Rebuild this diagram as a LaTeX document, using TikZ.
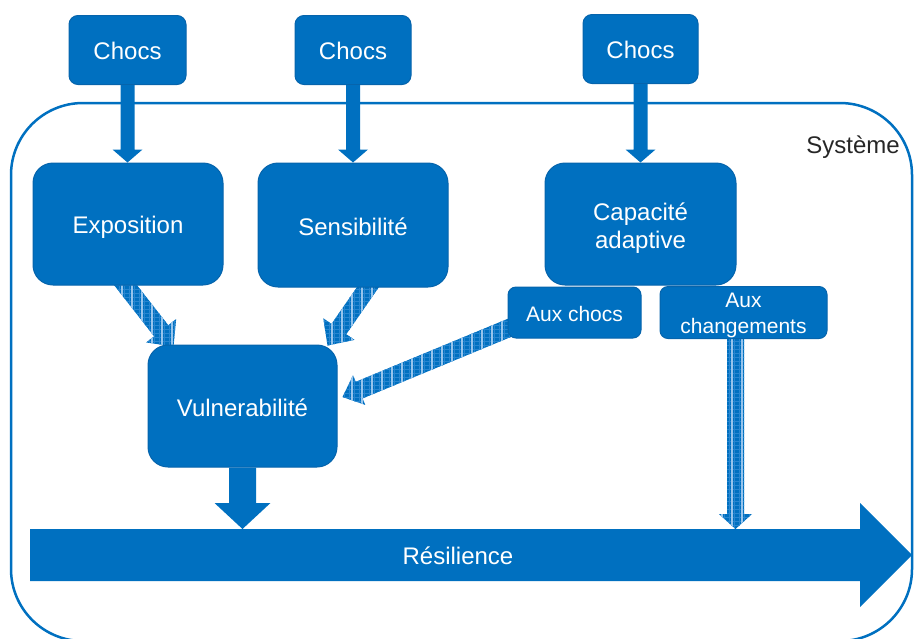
\documentclass[tikz,border=0pt]{standalone}
\usepackage{fontspec}
\setmainfont{Liberation Sans}
\usetikzlibrary{calc,backgrounds}
\definecolor{bl}{RGB}{0,112,192}
\definecolor{bldark}{RGB}{6,100,172}
\definecolor{stripe}{RGB}{150,196,236}
\definecolor{stripeb}{RGB}{40,134,208}
\definecolor{systxt}{RGB}{38,38,38}
% lower a text inside its node without changing the node
\newcommand\lowr[2][3pt]{\raisebox{-#1}[\height][\depth]{#2}}
\newcommand\twol[2]{\begin{tabular}{@{}c@{}}#1\\#2\end{tabular}}
% outline of a block arrow: start, tip, half shaft width, half head width (head base at (hb))
\newcommand\arrpath[4]{($(#1)!#3!90:(#2)$) -- ($(hb)!#3!90:(#2)$) -- ($(hb)!#4!90:(#2)$) -- (#2)
    -- ($(hb)!#4!-90:(#2)$) -- ($(hb)!#3!-90:(#2)$) -- ($(#1)!#3!-90:(#2)$) -- cycle}
% solid block arrow: start, tip, half shaft width, half head width, head length
\newcommand\blockarr[5]{%
  \coordinate (hb) at ($(#2)!#5!(#1)$);
  \fill[bl] \arrpath{#1}{#2}{#3}{#4};}
% textured block arrow
\newcommand\plaidarr[5]{%
  \begin{scope}
  \coordinate (hb) at ($(#2)!#5!(#1)$);
  \clip \arrpath{#1}{#2}{#3}{#4};
  \fill[bl] (0,0) rectangle (915,638);
  \foreach \yy in {1.5,5.5,...,638} \draw[stripeb, line width=0.6pt] (0,\yy) -- (915,\yy);
  \foreach \xx in {4,9,...,915} \draw[stripeb, line width=0.6pt] (\xx,0) -- (\xx,638);
  \foreach \xx in {2,12,...,915} \draw[stripe, line width=1.1pt] (\xx,0) -- (\xx,638);
  \end{scope}}
\begin{document}
\begin{tikzpicture}[x=1pt,y=-1pt,
  bigbox/.style={fill=bl, draw=bldark, line width=1pt, rounded corners=20pt, text=white,
    font=\fontsize{24}{28}\selectfont, inner sep=0pt},
  chocbox/.style={bigbox, rounded corners=9pt},
  smallbox/.style={fill=bl, draw=bldark, line width=1pt, rounded corners=8pt, text=white,
    font=\fontsize{21}{26}\selectfont, inner sep=0pt}]
\useasboundingbox (0,0) rectangle (915,638);

% boxes
\node[chocbox, minimum width=117pt, minimum height=69pt] (choc1) at (127.5,50) {\lowr[1pt]{Chocs}};
\node[chocbox, minimum width=116pt, minimum height=69pt] (choc2) at (353,50) {\lowr[1pt]{Chocs}};
\node[chocbox, minimum width=115pt, minimum height=69pt] (choc3) at (640.5,49) {\lowr[1pt]{Chocs}};
\node[bigbox, minimum width=190pt, minimum height=122pt] (expo) at (128,224) {\lowr[3pt]{Exposition}};
\node[bigbox, minimum width=190pt, minimum height=124pt] (sens) at (353,225) {\lowr[2pt]{Sensibilité}};
\node[bigbox, minimum width=191pt, minimum height=122pt] (cap) at (640.5,224) {\lowr[5pt]{\twol{Capacité}{adaptive}}};
\node[smallbox, minimum width=133pt, minimum height=51pt] (auxchocs) at (574.5,312.5) {\lowr[1pt]{Aux chocs}};
\node[smallbox, minimum width=167pt, minimum height=51pt] (auxchg) at (743.5,312.5) {\lowr[3pt]{\twol{Aux}{changements}}};
\node[bigbox, minimum width=189pt, minimum height=122pt] (vuln) at (242.5,406) {\lowr[2pt]{Vulnerabilité}};
\node[text=systxt, font=\fontsize{24}{28}\selectfont] (sys) at (853,145) {\lowr[2pt]{Système}};

\coordinate (restop) at (0,529);

% Résilience arrow
\coordinate (rs) at (30,555);
\coordinate (re) at (912,555);
\blockarr{rs}{re}{26pt}{52pt}{52pt}
\node[text=white, font=\fontsize{24}{28}\selectfont] (res) at (458,555) {\lowr[1pt]{Résilience}};

% solid arrows from Chocs
\coordinate (a1s) at (choc1.south);
\coordinate (a1e) at (choc1.south |- expo.north);
\blockarr{a1s}{a1e}{7pt}{15pt}{13pt}
\coordinate (a2s) at (choc2.south);
\coordinate (a2e) at (choc2.south |- sens.north);
\blockarr{a2s}{a2e}{7pt}{15pt}{13pt}
\coordinate (a3s) at (choc3.south);
\coordinate (a3e) at (choc3.south |- cap.north);
\blockarr{a3s}{a3e}{7pt}{15pt}{13pt}

% Vulnerabilité to Résilience
\coordinate (vs) at (vuln.south);
\coordinate (ve) at (vuln.south |- restop);
\blockarr{vs}{ve}{13.5pt}{28pt}{26pt}

\begin{pgfonlayer}{background}
% system frame
\draw[bl, line width=2.5pt, rounded corners=72pt] (11,103) rectangle (912,641);
% textured arrows
\coordinate (p1s) at ($(expo.south)+(-10,-10)$);
\coordinate (p1e) at ($(vuln.north west)+(26,2)$);
\plaidarr{p1s}{p1e}{9pt}{19pt}{20pt}
\coordinate (p2s) at ($(sens.south)+(23,-12)$);
\coordinate (p2e) at ($(vuln.north east)+(-10,1)$);
\plaidarr{p2s}{p2e}{9pt}{19pt}{20pt}
\coordinate (p3s) at ($(auxchocs.south west)+(10,-14)$);
\coordinate (p3e) at ($(vuln.east)+(5,-9)$);
\plaidarr{p3s}{p3e}{9pt}{16pt}{18pt}
\coordinate (p4s) at ($(auxchg.south)+(-8,-3)$);
\coordinate (p4e) at (p4s |- restop);
\plaidarr{p4s}{p4e}{8.5pt}{16.5pt}{15pt}
\end{pgfonlayer}
\end{tikzpicture}
\end{document}
